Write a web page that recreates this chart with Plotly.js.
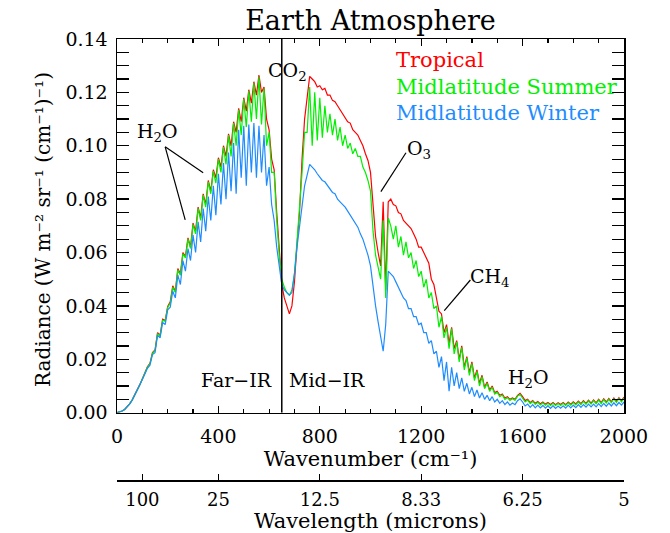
<!DOCTYPE html>
<html>
<head>
<meta charset="utf-8">
<script src="https://cdn.plot.ly/plotly-3.0.1.min.js"></script>
<style>html,body{margin:0;padding:0;background:#fff}#chart{width:670px;height:533px}</style>
</head>
<body>
<div id="chart"></div>
<script>
// Wavenumber grid (cm^-1)
const wavenumber = [0,10,20,30,40,50,60,70,80,90,100,110,120,130,140,150,160,170,180,190,200,
210,220,230,240,250,260,270,280,290,300,310,320,330,340,350,360,370,380,390,400,
410,420,430,440,450,460,470,480,490,500,510,520,530,540,550,560,570,580,590,600,
610,620,630,640,650,660,670,680,690,700,710,720,730,740,750,760,770,780,790,800,
810,820,830,840,850,860,870,880,890,900,910,920,930,940,950,960,970,980,990,1000,
1010,1020,1030,1040,1050,1060,1070,1080,1090,1100,1110,1120,1130,1140,1150,1160,1170,1180,1190,1200,
1210,1220,1230,1240,1250,1260,1270,1280,1290,1300,1310,1320,1330,1340,1350,1360,1370,1380,1390,1400,
1410,1420,1430,1440,1450,1460,1470,1480,1490,1500,1510,1520,1530,1540,1550,1560,1570,1580,1590,1600,
1610,1620,1630,1640,1650,1660,1670,1680,1690,1700,1710,1720,1730,1740,1750,1760,1770,1780,1790,1800,
1810,1820,1830,1840,1850,1860,1870,1880,1890,1900,1910,1920,1930,1940,1950,1960,1970,1980,1990,2000];

const tropical = [0,.0002,.0006,.0012,.0021,.0033,.0048,.0066,.0085,.0105,.0127,.0149,.0172,
.0185,.0225,.0235,.0300,.0290,.0350,.0345,.0398,
.0415,.0475,.0455,.0540,.0520,.0600,.0585,.0655,.0620,.0710,
.0680,.0770,.0730,.0820,.0780,.0870,.0830,.0910,.0880,.0955,
.0920,.1000,.0960,.1045,.1000,.1090,.1050,.1140,.1090,.1180,
.1130,.1210,.1160,.1240,.1190,.1265,.1200,.1220,.1100,.1060,
.0950,.0910,.0750,.0600,.0480,.0430,.0400,.0370,.0400,.0490,
.0630,.0750,.0950,.1100,.1180,.1260,.1250,.1240,.1220,.1225,
.1210,.1215,.1190,.1190,.1170,.1165,.1150,.1135,.1120,.1110,
.1090,.1085,.1060,.1050,.1040,.1020,.1000,.0970,.0945,.0900,
.0760,.0660,.0600,.0550,.0790,.0460,.0790,.0800,.0780,.0775,
.0750,.0745,.0720,.0710,.0700,.0690,.0670,.0650,.0620,.0620,
.0600,.0580,.0560,.0500,.0480,.0430,.0380,.0370,.0300,.0330,
.0260,.0320,.0240,.0270,.0200,.0250,.0170,.0210,.0150,.0190,
.0130,.0160,.0110,.0140,.0095,.0115,.0085,.0100,.0075,.0080,
.0065,.0070,.0055,.0060,.0050,.0055,.0050,.0065,.0072,.0060,
.0045,.0050,.0038,.0045,.0035,.0042,.0033,.0040,.0032,.0038,
.0031,.0038,.0030,.0037,.0031,.0038,.0030,.0040,.0032,.0041,
.0033,.0043,.0034,.0045,.0035,.0047,.0036,.0048,.0037,.0050,
.0038,.0052,.0040,.0053,.0041,.0055,.0042,.0056,.0044,.0058];

const midlatSummer = [0,.0002,.0006,.0012,.0021,.0033,.0048,.0066,.0085,.0104,.0126,.0147,.0170,
.0183,.0222,.0232,.0296,.0288,.0346,.0342,.0394,
.0410,.0470,.0450,.0535,.0515,.0595,.0580,.0650,.0615,.0705,
.0670,.0765,.0720,.0815,.0770,.0865,.0820,.0905,.0860,.0950,
.0900,.0995,.0930,.1040,.0960,.1085,.1000,.1135,.1040,.1175,
.1070,.1205,.1090,.1235,.1100,.1258,.1080,.1215,.1000,.1050,
.0900,.0900,.0720,.0590,.0500,.0470,.0450,.0440,.0460,.0520,
.0640,.0760,.0900,.1050,.1050,.1220,.1000,.1200,.1020,.1180,
.1030,.1150,.1050,.1120,.1040,.1100,.1020,.1070,.1000,.1040,
.0990,.1010,.0970,.0990,.0960,.0960,.0920,.0900,.0870,.0830,
.0680,.0590,.0540,.0500,.0720,.0430,.0730,.0700,.0650,.0700,
.0620,.0660,.0590,.0640,.0580,.0600,.0540,.0570,.0510,.0530,
.0470,.0500,.0430,.0450,.0390,.0400,.0320,.0360,.0280,.0320,
.0240,.0315,.0220,.0265,.0190,.0245,.0160,.0205,.0140,.0185,
.0120,.0155,.0100,.0135,.0090,.0110,.0080,.0095,.0070,.0076,
.0060,.0066,.0050,.0056,.0046,.0052,.0046,.0062,.0068,.0056,
.0040,.0047,.0034,.0042,.0031,.0039,.0029,.0037,.0028,.0035,
.0027,.0035,.0027,.0034,.0027,.0035,.0027,.0037,.0028,.0038,
.0029,.0040,.0030,.0042,.0031,.0044,.0032,.0045,.0033,.0047,
.0034,.0049,.0036,.0050,.0037,.0052,.0038,.0053,.0040,.0055];

const midlatWinter = [0,.0002,.0006,.0012,.0021,.0033,.0047,.0065,.0084,.0102,.0124,.0145,.0166,
.0178,.0218,.0225,.0290,.0280,.0338,.0330,.0385,
.0395,.0455,.0430,.0515,.0480,.0570,.0530,.0615,.0570,.0665,
.0600,.0715,.0640,.0765,.0680,.0810,.0720,.0850,.0740,.0895,
.0780,.0935,.0800,.0975,.0830,.1010,.0820,.1060,.0880,.1075,
.0850,.1080,.0900,.1085,.0880,.1075,.0900,.1040,.0850,.0920,
.0780,.0720,.0620,.0540,.0480,.0460,.0450,.0440,.0450,.0520,
.0620,.0700,.0780,.0850,.0890,.0930,.0920,.0910,.0895,.0880,
.0870,.0865,.0850,.0840,.0825,.0820,.0800,.0790,.0780,.0770,
.0755,.0740,.0725,.0710,.0695,.0670,.0650,.0620,.0590,.0550,
.0470,.0400,.0340,.0290,.0230,.0330,.0530,.0520,.0510,.0490,
.0470,.0455,.0430,.0420,.0390,.0390,.0360,.0360,.0330,.0335,
.0300,.0300,.0260,.0270,.0220,.0230,.0170,.0210,.0120,.0190,
.0080,.0170,.0100,.0150,.0090,.0130,.0080,.0110,.0070,.0095,
.0060,.0085,.0055,.0075,.0050,.0065,.0045,.0060,.0040,.0050,
.0035,.0045,.0030,.0040,.0028,.0036,.0030,.0045,.0052,.0040,
.0025,.0032,.0020,.0030,.0018,.0028,.0018,.0027,.0017,.0026,
.0016,.0026,.0016,.0025,.0017,.0026,.0017,.0028,.0018,.0028,
.0019,.0030,.0020,.0030,.0021,.0032,.0022,.0032,.0022,.0034,
.0023,.0035,.0024,.0036,.0025,.0037,.0026,.0038,.0028,.0040];

const seriesNames = ['Tropical', 'Midlatitude Summer', 'Midlatitude Winter'];
const seriesColors = ['#ff0000', '#00f000', '#1e8cff'];

const wavelengthTickVals = [0, 100, 400, 800, 1200, 1600, 2000];
const wavelengthTickText = ['', '100', '25', '12.5', '8.33', '6.25', '5'];

const FONT = 'DejaVu Serif';
const series = [tropical, midlatSummer, midlatWinter];

const traces = series.map((ys, i) => ({
  type: 'scatter', mode: 'lines', x: wavenumber, y: ys, name: seriesNames[i],
  line: {color: seriesColors[i], width: 1.2}, hoverinfo: 'skip', showlegend: false,
  xaxis: 'x', yaxis: 'y'
}));
traces.push({type: 'scatter', mode: 'lines', x: [], y: [], xaxis: 'x2', yaxis: 'y', showlegend: false, hoverinfo: 'skip'});

const legendAnn = seriesNames.map((n, i) => ({
  text: n, xref: 'x', yref: 'y', x: 1094, y: [0.1322, 0.1221, 0.1123][i],
  xanchor: 'left', yanchor: 'middle', showarrow: false,
  font: {family: FONT, size: 21, color: seriesColors[i]}
}));

const labelAnn = [
  {text: 'CO<sub>2</sub>', x: 672, y: 0.128},
  {text: 'H<sub>2</sub>O', x: 160, y: 0.105},
  {text: 'O<sub>3</sub>', x: 1193, y: 0.0985},
  {text: 'CH<sub>4</sub>', x: 1473, y: 0.0505},
  {text: 'H<sub>2</sub>O', x: 1623, y: 0.0128},
  {text: 'Far\u2212IR', x: 473, y: 0.0122},
  {text: 'Mid\u2212IR', x: 828, y: 0.0122}
].map(a => Object.assign({xref: 'x', yref: 'y', showarrow: false, xanchor: 'center', yanchor: 'middle',
  font: {family: FONT, size: 19, color: 'black'}}, a));

const yTitleAnn = {
  text: 'Radiance (W m\u207B\u00B2 sr\u207B\u00B9 (cm\u207B\u00B9)\u207B\u00B9)',
  xref: 'paper', yref: 'paper', x: (43 - 117) / 507, y: (480 - 230) / 441,
  xanchor: 'center', yanchor: 'middle', textangle: -90, showarrow: false,
  font: {family: FONT, size: 20, color: 'black'}
};

const pointer = (x0, y0, x1, y1) => ({type: 'line', xref: 'x', yref: 'y', x0, y0, x1, y1,
  line: {color: 'black', width: 1.2}});

const layout = {
  width: 670, height: 533,
  margin: {l: 117, r: 46, t: 39, b: 53, pad: 0},
  paper_bgcolor: '#fff', plot_bgcolor: '#fff',
  font: {family: FONT, size: 19, color: 'black'},
  showlegend: false,
  title: {text: 'Earth Atmosphere', font: {family: FONT, size: 27, color: 'black'},
    xref: 'paper', x: 0.5, xanchor: 'center', yref: 'container', y: 0.962, yanchor: 'middle'},
  xaxis: {
    range: [0, 2000], anchor: 'y', tickmode: 'linear', tick0: 0, dtick: 400,
    ticks: 'inside', ticklen: 7, tickwidth: 1.3, tickcolor: 'black',
    showline: true, linecolor: 'black', linewidth: 1.5, mirror: 'allticks',
    showgrid: false, zeroline: false, ticklabelstandoff: 6,
    minor: {ticks: 'inside', dtick: 100, tick0: 0, ticklen: 3.5, tickwidth: 1.2, tickcolor: 'black', showgrid: false},
    title: {text: 'Wavenumber (cm\u207B\u00B9)', standoff: 4, font: {family: FONT, size: 21}}
  },
  xaxis2: {
    range: [0, 2000], overlaying: 'x', anchor: 'free', position: 0, side: 'bottom',
    tickmode: 'array', tickvals: wavelengthTickVals, ticktext: wavelengthTickText,
    ticks: 'inside', ticklen: 6, tickwidth: 1.3, tickcolor: 'black',
    showline: true, linecolor: 'black', linewidth: 1.5, showgrid: false, zeroline: false,
    ticklabelstandoff: 3, tickfont: {family: FONT, size: 18},
    title: {text: 'Wavelength (microns)', standoff: 0, font: {family: FONT, size: 21}}
  },
  yaxis: {
    domain: [0.1527, 1], range: [0, 0.14], tickmode: 'linear', tick0: 0, dtick: 0.02, tickformat: '.2f',
    ticks: 'inside', ticklen: 12, tickwidth: 1.3, tickcolor: 'black',
    showline: true, linecolor: 'black', linewidth: 1.5, mirror: 'allticks',
    showgrid: false, zeroline: false, ticklabelstandoff: 4,
    minor: {ticks: 'inside', dtick: 0.005, tick0: 0, ticklen: 5, tickwidth: 1.2, tickcolor: 'black', showgrid: false}
  },
  shapes: [
    {type: 'line', xref: 'x', yref: 'y', x0: 650, x1: 650, y0: 0, y1: 0.14, line: {color: 'black', width: 1.5}},
    pointer(190, 0.0996, 340, 0.0899),
    pointer(190, 0.0996, 269, 0.0722),
    pointer(1140, 0.0974, 1041, 0.0828),
    pointer(1394, 0.0497, 1291, 0.0382)
  ],
  annotations: legendAnn.concat(labelAnn, [yTitleAnn])
};

Plotly.newPlot('chart', traces, layout, {displayModeBar: false, staticPlot: true});
</script>
</body>
</html>
